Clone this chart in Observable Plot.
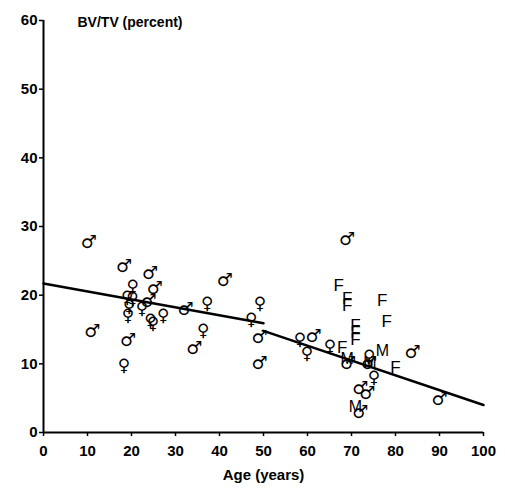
<!DOCTYPE html>
<html>
<head>
<meta charset="utf-8">
<script src="https://cdn.jsdelivr.net/npm/d3@7"></script>
<script src="https://cdn.jsdelivr.net/npm/@observablehq/plot@0.6"></script>
<style>
  body { margin: 0; background: white; }
</style>
</head>
<body>
<div id="chart"></div>
<script>
// Tick labels
const xTicks = [0, 10, 20, 30, 40, 50, 60, 70, 80, 90, 100];
const yTicks = [0, 10, 20, 30, 40, 50, 60];

// Males (♂)
const maleAge = [10.3, 18.3, 24.2, 25.3, 41.2, 23.9, 11.1, 19.2, 32.3, 34.3, 49.1, 49.1, 61.4, 69.0, 83.9, 90.0, 72.0, 73.6, 72.0, 69.2, 74.0];
const maleBV  = [27.7, 24.2, 23.2, 21.0, 22.2, 19.1, 14.7, 13.5, 18.0, 12.3, 13.9, 10.1, 14.0, 28.2, 11.7, 4.9, 6.5, 5.7, 3.0, 10.1, 10.1];

// Females (♀)
const femaleAge = [20.3, 19.0, 20.2, 19.5, 19.2, 22.4, 24.3, 24.9, 27.2, 18.3, 37.2, 36.3, 49.2, 47.2, 58.3, 59.9, 65.1, 74.0, 75.1];
const femaleBV  = [21.3, 19.7, 19.5, 18.3, 17.1, 18.0, 16.3, 15.8, 17.0, 9.8, 18.8, 14.8, 18.8, 16.4, 13.6, 11.5, 12.5, 11.0, 8.0];

// "F" markers
const fAge = [67.1, 69.0, 69.0, 77.0, 78.0, 70.9, 70.9, 70.9, 67.9, 80.0];
const fBV  = [21.4, 19.5, 18.5, 19.2, 16.1, 15.6, 14.6, 13.6, 12.4, 9.5];

// "M" markers
const mAge = [77.0, 69.0, 74.2, 70.9];
const mBV  = [11.9, 10.7, 10.2, 3.7];

// Regression segments
const fit1Age = [0, 50];
const fit1BV  = [21.7, 15.9];
const fit2Age = [50, 100];
const fit2BV  = [14.8, 4.0];

const toRows = (xs, ys) => xs.map((x, i) => ({age: x, bv: ys[i]}));
const males = toRows(maleAge, maleBV);
const females = toRows(femaleAge, femaleBV);
const fs = toRows(fAge, fBV);
const ms = toRows(mAge, mBV);
const fit1 = toRows(fit1Age, fit1BV);
const fit2 = toRows(fit2Age, fit2BV);

const symFont = "DejaVu Sans, sans-serif";
const textFont = "Liberation Sans, Arial, sans-serif";

const chart = Plot.plot({
  width: 505,
  height: 490,
  marginLeft: 43,
  marginRight: 22,
  marginTop: 20,
  marginBottom: 58,
  x: {domain: [0, 100]},
  y: {domain: [0, 60]},
  style: {
    fontFamily: textFont,
    fontSize: "15px",
    fontWeight: "bold",
    color: "black",
    background: "white"
  },
  marks: [
    Plot.axisX({ticks: xTicks, tickSize: 4, tickPadding: 9, label: "Age (years)", labelAnchor: "center", labelArrow: "none", labelOffset: 47, strokeWidth: 1.5}),
    Plot.axisY({ticks: yTicks, tickSize: 4, tickPadding: 2, label: null, strokeWidth: 1.5}),
    Plot.ruleX([0], {stroke: "black", strokeWidth: 2}),
    Plot.ruleY([0], {stroke: "black", strokeWidth: 2}),
    Plot.text(["BV/TV (percent)"], {frameAnchor: "top-left", dx: 34, dy: -3, textAnchor: "start", fontSize: 14, fontWeight: "bold"}),
    Plot.line(fit1, {x: "age", y: "bv", stroke: "black", strokeWidth: 2.5}),
    Plot.line(fit2, {x: "age", y: "bv", stroke: "black", strokeWidth: 2.5}),
    Plot.text(males, {x: "age", y: "bv", text: () => "♂", fontSize: 18, fontFamily: symFont, fontWeight: "bold", fill: "black"}),
    Plot.text(females, {x: "age", y: "bv", text: () => "♀", fontSize: 17, fontFamily: symFont, fontWeight: "bold", fill: "black"}),
    Plot.text(fs, {x: "age", y: "bv", text: () => "F", fontSize: 17, fontFamily: textFont, fontWeight: "normal", fill: "black"}),
    Plot.text(ms, {x: "age", y: "bv", text: () => "M", fontSize: 16, fontFamily: textFont, fontWeight: "normal", fill: "black"})
  ]
});

document.getElementById("chart").appendChild(chart);
</script>
</body>
</html>
